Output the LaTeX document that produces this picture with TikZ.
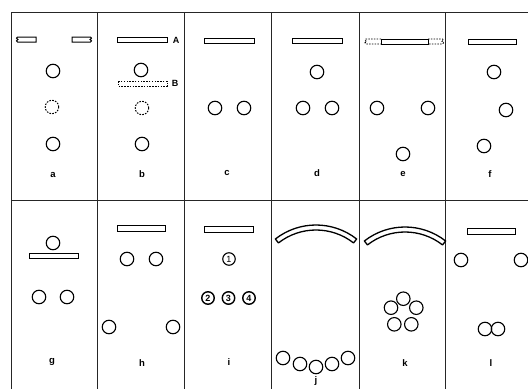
\documentclass[tikz,border=0pt]{standalone}
\usepackage{fontspec}
\newfontfamily\labfamily{Liberation Sans}
\begin{document}
\begin{tikzpicture}[x=1pt,y=-1pt,
  frame/.style={line width=0.8pt, draw=black!85},
  ball/.style={circle, draw, line width=1.1pt, minimum size=13.5pt, inner sep=0pt},
  ghost/.style={ball, line width=1pt, dash pattern=on 1.6pt off 1.3pt},
  numball/.style={ball, line width=1.4pt, minimum size=12.5pt, font=\labfamily\bfseries\fontsize{9}{9}\selectfont},
  bar/.style={draw, line width=1pt},
  ghostbar/.style={draw, line width=0.9pt, dash pattern=on 1.5pt off 1.3pt},
  band/.style={draw, line width=1.3pt, line join=round},
  lab/.style={inner sep=0pt, font=\labfamily\bfseries\fontsize{9.5}{9.5}\selectfont},
  tag/.style={inner sep=0pt, font=\labfamily\bfseries\fontsize{9}{9}\selectfont}]
\useasboundingbox (0,0) rectangle (528,389);
% frame
\draw[frame] (11,389) -- (11,12) -- (528,12);
\draw[frame] (11,200) -- (528,200);
\foreach \x in {97,184,271,359,445} \draw[frame] (\x,12) -- (\x,389);

% ---- panel a
\draw[bar] (36,37) -- (17.5,37) -- (16.5,38.2) -- (18,39.5) -- (16.5,40.8) -- (17.5,42) -- (36,42) -- cycle;
\draw[bar] (72,37) -- (90.5,37) -- (91.5,38.2) -- (90,39.5) -- (91.5,40.8) -- (90.5,42) -- (72,42) -- cycle;
\node[ball] (a1) at (53,71) {};
\node[ghost] (a2) at (52,107) {};
\node[ball] (a3) at (53,144) {};
\node[lab] (la) at (53,175) {a};

% ---- panel b
\draw[bar] (117,37) rectangle (167,42);
\node[tag] (tA) at (176,40) {A};
\node[ball] (b1) at (141,70) {};
\draw[ghostbar] (118,81) rectangle (167,86);
\node[tag] (tB) at (175,83.5) {B};
\node[ghost] (b2) at (142,108) {};
\node[ball] (b3) at (142,144) {};
\node[lab] (lb) at (142,174) {b};

% ---- panel c
\draw[bar] (204,38) rectangle (254,43);
\node[ball] (c1) at (215,108) {};
\node[ball] (c2) at (244,108) {};
\node[lab] (lc) at (227,173) {c};

% ---- panel d
\draw[bar] (292,38) rectangle (342,43);
\node[ball] (d1) at (317,72) {};
\node[ball] (d2) at (303,108) {};
\node[ball] (d3) at (332,108) {};
\node[lab] (ld) at (317,173) {d};

% ---- panel e
\draw[bar] (381,39) rectangle (428,44);
\draw[ghostbar] (381,39) -- (366,39) -- (365,40.3) -- (366.5,41.5) -- (365,42.8) -- (366,44) -- (381,44);
\draw[ghostbar] (428,39) -- (442.5,39) -- (443.5,40.3) -- (442,41.5) -- (443.5,42.8) -- (442.5,44) -- (428,44);
\node[ball] (e1) at (377,108) {};
\node[ball] (e2) at (428,108) {};
\node[ball] (e3) at (403,154) {};
\node[lab] (le) at (403,174) {e};

% ---- panel f
\draw[bar] (468,39) rectangle (516,44);
\node[ball] (f1) at (494,72) {};
\node[ball] (f2) at (506,110) {};
\node[ball] (f3) at (484,146) {};
\node[lab] (lf) at (490,174) {f};

% ---- panel g
\node[ball] (g1) at (53,243) {};
\draw[bar] (29,253) rectangle (78,258);
\node[ball] (g2) at (39,297) {};
\node[ball] (g3) at (67,297) {};
\node[lab] (lg) at (52,362) {g};

% ---- panel h
\draw[bar] (117,225) rectangle (165,231);
\node[ball] (h1) at (127,259) {};
\node[ball] (h2) at (156,259) {};
\node[ball] (h3) at (109,327) {};
\node[ball] (h4) at (173,327) {};
\node[lab] (lh) at (142,363) {h};

% ---- panel i
\draw[bar] (204,226) rectangle (253,232);
\node[numball, line width=1.1pt, font=\labfamily\fontsize{9}{9}\selectfont] (i1) at (229,259) {1};
\node[numball] (i2) at (208,298) {2};
\node[numball] (i3) at (228.5,298) {3};
\node[numball] (i4) at (249,298) {4};
\node[lab] (li) at (229,362) {i};

% ---- panel j
\draw[band] ([shift={(316,291)}]232:66) arc[start angle=232, end angle=308, radius=66]
  -- ([shift={(316,291)}]308:61) arc[start angle=308, end angle=232, radius=61] -- cycle;
\node[ball] (j1) at (283,358) {};
\node[ball] (j2) at (300,364) {};
\node[ball] (j3) at (316,367) {};
\node[ball] (j4) at (332,364) {};
\node[ball] (j5) at (348,358) {};
\node[lab] (lj) at (316,381) {j};

% ---- panel k
\draw[band] ([shift={(405,293)}]232:66) arc[start angle=232, end angle=308, radius=66]
  -- ([shift={(405,293)}]308:61) arc[start angle=308, end angle=232, radius=61] -- cycle;
\node[ball] (k1) at (403.3,298.7) {};
\node[ball] (k2) at (391,307.7) {};
\node[ball] (k3) at (416.3,307.7) {};
\node[ball] (k4) at (394.3,324.3) {};
\node[ball] (k5) at (411.3,324.3) {};
\node[lab] (lk) at (405,363) {k};

% ---- panel l
\draw[bar] (467,228) rectangle (515,234);
\node[ball] (l1) at (461,260) {};
\node[ball] (l2) at (521,260) {};
\node[ball] (l3) at (485,329) {};
\node[ball] (l4) at (498,329) {};
\node[lab] (ll) at (491,363) {l};
\end{tikzpicture}
\end{document}
